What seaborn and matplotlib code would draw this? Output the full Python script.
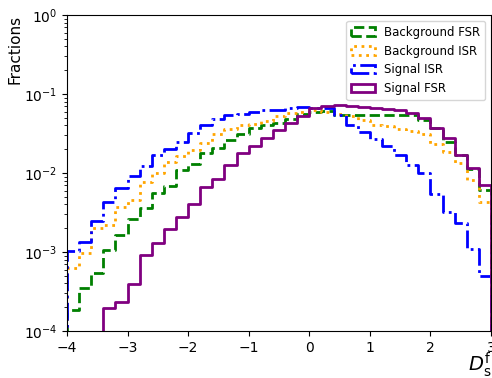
import numpy as np
import pandas as pd
import matplotlib
matplotlib.use("Agg")
import matplotlib.pyplot as plt
from matplotlib.patches import Patch
import seaborn as sns

# bin edges: -4 .. 3 in steps of 0.2 (35 bins)
bin_starts = [-4.0, -3.8, -3.6, -3.4, -3.2, -3.0, -2.8, -2.6, -2.4, -2.2,
              -2.0, -1.8, -1.6, -1.4, -1.2, -1.0, -0.8, -0.6, -0.4, -0.2,
              0.0, 0.2, 0.4, 0.6, 0.8, 1.0, 1.2, 1.4, 1.6, 1.8,
              2.0, 2.2, 2.4, 2.6, 2.8]
bin_width = 0.2

background_fsr = [1.85e-4, 3.5e-4, 5.4e-4, 1.06e-3, 1.65e-3, 2.6e-3, 3.6e-3, 5.6e-3, 6.9e-3, 1.1e-2,
                  1.3e-2, 1.8e-2, 2.1e-2, 2.6e-2, 3.1e-2, 3.7e-2, 4.1e-2, 4.3e-2, 4.8e-2, 5.6e-2,
                  6.0e-2, 6.1e-2, 5.5e-2, 5.4e-2, 5.4e-2, 5.4e-2, 5.5e-2, 5.5e-2, 5.5e-2, 4.7e-2,
                  3.7e-2, 2.5e-2, 1.7e-2, 1.12e-2, 6.1e-3]
background_isr = [6.3e-4, 9.6e-4, 2.0e-3, 2.2e-3, 3.7e-3, 4.6e-3, 7.6e-3, 1.0e-2, 1.37e-2, 1.66e-2,
                  1.95e-2, 2.4e-2, 3.1e-2, 3.6e-2, 4.1e-2, 4.2e-2, 4.6e-2, 5.2e-2, 5.7e-2, 6.0e-2,
                  6.3e-2, 6.0e-2, 5.6e-2, 5.2e-2, 4.7e-2, 4.0e-2, 3.9e-2, 3.6e-2, 3.4e-2, 3.1e-2,
                  2.3e-2, 1.86e-2, 1.35e-2, 8.2e-3, 4.3e-3]
signal_isr = [1.04e-3, 1.33e-3, 2.47e-3, 4.27e-3, 6.4e-3, 9.2e-3, 1.24e-2, 1.68e-2, 2.0e-2, 2.5e-2,
              3.2e-2, 4.1e-2, 4.8e-2, 5.4e-2, 5.6e-2, 5.9e-2, 6.2e-2, 6.3e-2, 6.6e-2, 6.8e-2,
              6.7e-2, 6.6e-2, 5.4e-2, 4.0e-2, 3.3e-2, 2.7e-2, 2.2e-2, 1.7e-2, 1.26e-2, 1.0e-2,
              5.5e-3, 3.2e-3, 2.35e-3, 1.1e-3, 5.0e-4]
signal_fsr = [0.0, 0.0, 0.0, 1.95e-4, 2.35e-4, 3.9e-4, 9.2e-4, 1.29e-3, 1.95e-3, 2.8e-3,
              4.1e-3, 6.7e-3, 8.5e-3, 1.26e-2, 1.8e-2, 2.2e-2, 2.75e-2, 3.5e-2, 4.3e-2, 5.2e-2,
              6.6e-2, 7.0e-2, 7.3e-2, 7.0e-2, 6.9e-2, 6.6e-2, 6.5e-2, 6.3e-2, 5.7e-2, 4.9e-2,
              3.7e-2, 2.75e-2, 1.7e-2, 1.15e-2, 7.0e-3]

series_labels = ["Background FSR", "Background ISR", "Signal ISR", "Signal FSR"]
series_values = [background_fsr, background_isr, signal_isr, signal_fsr]
series_colors = ["green", "orange", "blue", "purple"]
series_styles = ["--", ":", "-.", "-"]

x_ticks = [-4, -3, -2, -1, 0, 1, 2, 3]

# pad one empty bin on each side so the outline drops to the bottom at the edges
starts = np.array(bin_starts)
centers = np.concatenate([[starts[0] - bin_width / 2], starts + bin_width / 2,
                          [starts[-1] + bin_width * 1.5]])
edges = np.concatenate([[starts[0] - bin_width], starts, [starts[-1] + bin_width],
                        [starts[-1] + 2 * bin_width]])
edges = [float(e) for e in edges]

fig = plt.figure(figsize=(4.92, 3.78), dpi=100)
ax = fig.add_axes([67 / 492, 1 - 331 / 378, (491 - 67) / 492, (331 - 15) / 378])

handles = []
for lab, vals, col, ls in zip(series_labels, series_values, series_colors, series_styles):
    w = np.concatenate([[0.0], np.array(vals), [0.0]])
    df = pd.DataFrame({"x": centers, "w": w})
    sns.histplot(data=df, x="x", weights="w", bins=edges, element="step", fill=False,
                 color=col, linestyle=ls, linewidth=2, ax=ax)
    handles.append(Patch(facecolor="none", edgecolor=col, linestyle=ls, linewidth=2, label=lab))

ax.set_yscale("log")
ax.set_ylim(1e-4, 1)
ax.set_xlim(-4, 3)
ax.set_xticks(x_ticks)
ax.set_ylabel("Fractions", fontsize=11, loc="top", labelpad=1)
ax.set_xlabel(r"$D_{\rm s}^{\rm f}$", fontsize=14, loc="right", labelpad=-3)
ax.legend(handles=handles, loc="upper right", fontsize=8.5)

fig.savefig("out.png", dpi=100)
